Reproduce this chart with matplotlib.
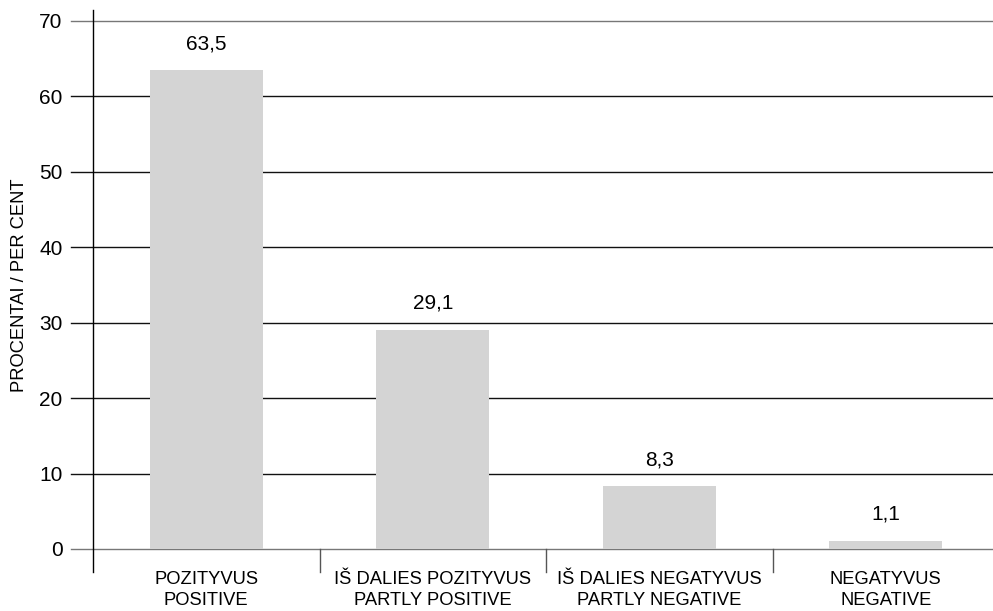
import matplotlib
matplotlib.use("Agg")
import matplotlib.pyplot as plt
import numpy as np

categories = ["POZITYVUS\nPOSITIVE", "IŠ DALIES POZITYVUS\nPARTLY POSITIVE",
              "IŠ DALIES NEGATYVUS\nPARTLY NEGATIVE", "NEGATYVUS\nNEGATIVE"]
values = [63.5, 29.1, 8.3, 1.1]
labels = ["63,5", "29,1", "8,3", "1,1"]
yticks = [0, 10, 20, 30, 40, 50, 60, 70]

plt.rcParams['font.family'] = ['Liberation Sans', 'DejaVu Sans']

fig = plt.figure(figsize=(9.93, 6.11), dpi=100)
ax = fig.add_axes([93/993, 62/611, 906/993, 528/611])

x = np.arange(len(values))
ax.bar(x, values, width=0.5, color='#d4d4d4', zorder=2)
for xi, v, l in zip(x, values, labels):
    ax.annotate(l, (xi, v), xytext=(0, 17), textcoords='offset pixels',
                ha='center', va='bottom', fontsize=15)

ax.set_xlim(-0.5, 3.5)
ax.set_ylim(0, 70)

# gridlines + left ticks that reach out past the axis
for t in yticks:
    c = '#777777' if t in (0, 70) else '#111111'
    ax.plot([-0.5 - 22/226.5, 3.5], [t, t], color=c, lw=1, clip_on=False, zorder=1)
ax.set_yticks(yticks)
ax.tick_params(axis='y', length=0, pad=22, labelsize=15)

# y axis line drawn down past the x axis
ax.plot([-0.5, -0.5], [71.5, -23/7.543], color='black', lw=1, clip_on=False, zorder=3)

# category separators
for s in [0.5, 1.5, 2.5]:
    ax.plot([s, s], [0, -23/7.543], color='#555555', lw=1, clip_on=False)

ax.set_xticks(x)
ax.set_xticklabels(categories, fontsize=13.2, linespacing=1.3)
ax.tick_params(axis='x', length=0, pad=16)

for sp in ax.spines.values():
    sp.set_visible(False)

ax.set_ylabel("PROCENTAI / PER CENT", fontsize=13.2)
ax.yaxis.set_label_coords(-65/906, 0.5)

fig.savefig("out.png", dpi=100)
